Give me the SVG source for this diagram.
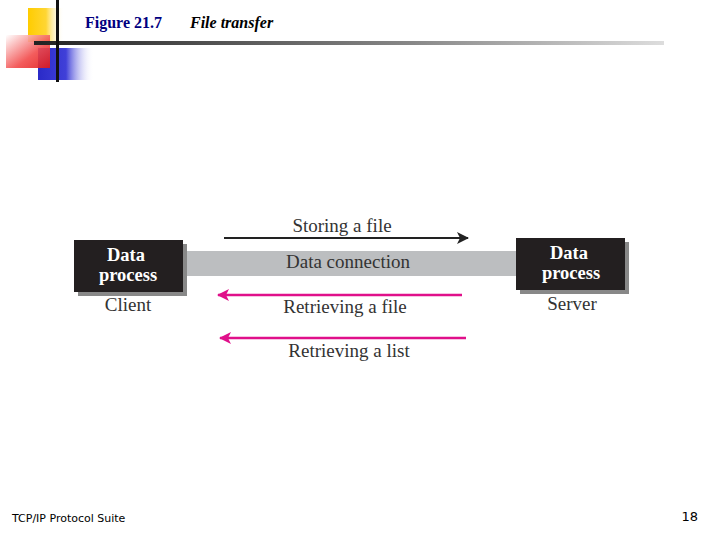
<svg xmlns="http://www.w3.org/2000/svg" width="720" height="540" viewBox="0 0 720 540">
<defs>
<linearGradient id="gy" x1="0" x2="1"><stop offset="0" stop-color="#ffcc00"/><stop offset="0.5" stop-color="#ffd633"/><stop offset="1" stop-color="#fff" stop-opacity="0"/></linearGradient>
<linearGradient id="gr" x1="0" y1="0" x2="1" y2="1"><stop offset="0" stop-color="#fff"/><stop offset="0.6" stop-color="#f24a4a"/><stop offset="1" stop-color="#e01818"/></linearGradient>
<linearGradient id="gb" x1="0" x2="1"><stop offset="0" stop-color="#2a2ac8"/><stop offset="0.5" stop-color="#4040d8"/><stop offset="1" stop-color="#fff" stop-opacity="0"/></linearGradient>
<linearGradient id="gl" x1="0" x2="1"><stop offset="0" stop-color="#222"/><stop offset="0.6" stop-color="#888"/><stop offset="1" stop-color="#ddd"/></linearGradient>
<marker id="ab" markerWidth="12" markerHeight="12" refX="11" refY="6" orient="auto" markerUnits="userSpaceOnUse"><path d="M0,0 L12,6 L0,12 L3,6 Z" fill="#222"/></marker>
<marker id="am" markerWidth="12" markerHeight="12" refX="11" refY="6" orient="auto" markerUnits="userSpaceOnUse"><path d="M0,0 L12,6 L0,12 L3,6 Z" fill="#e0108a"/></marker>
</defs>
<style>
.box{fill:#231f20}.sh{fill:#888}
.bt{font-family:"Liberation Serif",serif;font-weight:bold;font-size:18.5px;fill:#fff;text-anchor:middle}
.t{font-family:"Liberation Serif",serif;font-size:19px;fill:#333;text-anchor:middle}
</style>
<rect x="28" y="8" width="36" height="34" fill="url(#gy)"/>
<rect x="38" y="48" width="56" height="32" fill="url(#gb)"/>
<rect x="6" y="35" width="44" height="33" fill="url(#gr)" opacity="0.9"/>
<rect x="34" y="41" width="630" height="4" fill="url(#gl)"/>
<rect x="56" y="0" width="3" height="82" fill="#111"/>
<text x="85" y="28" font-family="Liberation Serif,serif" font-weight="bold" font-size="16" fill="#000080">Figure 21.7</text>
<text x="190" y="28" font-family="Liberation Serif,serif" font-weight="bold" font-style="italic" font-size="16" fill="#000">File transfer</text>
<rect x="183" y="251" width="333" height="25" fill="#bcbec0"/>
<g id="client"><rect class="sh" x="78" y="244" width="109" height="52"/><rect class="box" x="74" y="240" width="109" height="52"/><text class="bt" x="126" y="261">Data</text><text class="bt" x="128" y="281">process</text><text class="t" x="128" y="311">Client</text></g>
<g id="server"><rect class="sh" x="520" y="242" width="109" height="52"/><rect class="box" x="516" y="238" width="109" height="52"/><text class="bt" x="569" y="259">Data</text><text class="bt" x="571" y="279">process</text><text class="t" x="572" y="310">Server</text></g>
<text class="t" x="348" y="268">Data connection</text>
<g id="connectors">
<line x1="224" y1="238" x2="468" y2="238" stroke="#222" stroke-width="2" marker-end="url(#ab)"/>
<line x1="462" y1="295" x2="218" y2="295" stroke="#e0108a" stroke-width="2.5" marker-end="url(#am)"/>
<line x1="466" y1="338" x2="220" y2="338" stroke="#e0108a" stroke-width="2.5" marker-end="url(#am)"/>
</g>
<text class="t" x="342" y="232">Storing a file</text>
<text class="t" x="345" y="313">Retrieving a file</text>
<text class="t" x="349" y="357">Retrieving a list</text>
<text x="12" y="522" font-family="DejaVu Sans,sans-serif" font-size="11" fill="#000">TCP/IP Protocol Suite</text>
<text x="698" y="521" font-family="DejaVu Sans,sans-serif" font-size="13" fill="#000" text-anchor="end">18</text>
</svg>
